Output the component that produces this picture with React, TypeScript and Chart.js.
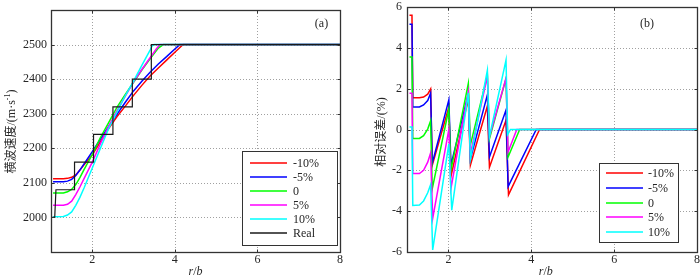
import React, { useEffect, useRef } from "react";
import { Chart, registerables } from "chart.js";
Chart.register(...registerables);

// ---------- data ----------
const seriesLabels = ["-10%", "-5%", "0", "5%", "10%", "Real"];
const seriesColors = ["#ff0000", "#0000ff", "#00ff00", "#ff00ff", "#00ffff", "#1a1a1a"];

const xTicks = [2, 4, 6, 8];
const velTicks = [2000, 2100, 2200, 2300, 2400, 2500];
const errTicks = [-6, -4, -2, 0, 2, 4, 6];

const velTitleMain = "横波速度/(m·s";
const velTitleSup = "-1";
const velTitleEnd = ")";
const errTitle = "相对误差/(%)";
const xTitleA = "r";
const xTitleSlash = "/";
const xTitleB = "b";
const panelA = "(a)";
const panelB = "(b)";

// left panel: shear wave velocity (x = r/b, y = m/s)
const velRed = [[1.05,2112],[1.3,2112],[1.4,2113],[1.5,2116],[1.6,2123],[1.7,2137],[1.8,2152],[2.0,2181],[2.2,2219],[2.4,2258],[2.6,2292],[2.8,2322],[3.0,2353],[3.2,2382],[3.4,2409],[3.6,2432],[3.8,2455],[4.0,2478],[4.2,2500],[8,2500]];
const velBlue = [[1.05,2103],[1.3,2103],[1.4,2105],[1.5,2110],[1.6,2121],[1.7,2137],[1.8,2155],[2.0,2190],[2.2,2227],[2.4,2264],[2.6,2299],[2.8,2333],[3.0,2366],[3.2,2394],[3.4,2420],[3.6,2444],[3.8,2465],[4.0,2487],[4.12,2500],[8,2500]];
const velGreen = [[1.05,2071],[1.3,2071],[1.4,2074],[1.5,2081],[1.6,2095],[1.7,2115],[1.8,2138],[2.0,2182],[2.2,2232],[2.4,2275],[2.6,2319],[2.8,2356],[3.0,2391],[3.2,2426],[3.4,2459],[3.6,2490],[3.72,2500],[8,2500]];
const velMagenta = [[1.05,2035],[1.3,2035],[1.4,2038],[1.5,2047],[1.6,2066],[1.7,2088],[1.8,2112],[2.0,2160],[2.2,2214],[2.4,2264],[2.6,2309],[2.8,2351],[3.0,2392],[3.2,2428],[3.4,2462],[3.55,2487],[3.64,2500],[8,2500]];
const velCyan = [[1.05,2002],[1.3,2003],[1.4,2007],[1.5,2016],[1.6,2035],[1.7,2058],[1.8,2085],[2.0,2143],[2.2,2201],[2.4,2258],[2.6,2305],[2.8,2352],[3.0,2394],[3.2,2440],[3.4,2484],[3.45,2496],[3.5,2500],[8,2500]];
const velReal = [[1.02,2000],[1.09,2000],[1.12,2080],[1.57,2080],[1.57,2160],[2.03,2160],[2.03,2240],[2.5,2240],[2.5,2320],[2.97,2320],[2.97,2400],[3.43,2400],[3.43,2500],[8,2500]];

// right panel: relative error (%)
const errRed = [[1.06,5.6],[1.12,5.6],[1.14,1.55],[1.3,1.55],[1.4,1.59],[1.5,1.73],[1.57,1.98],[1.61,-1.75],[2.01,1.1],[2.06,-2.3],[2.48,1.5],[2.53,-1.75],[2.94,1.15],[2.99,-1.85],[3.39,0.45],[3.45,-3.2],[4.2,0],[8,0]];
const errBlue = [[1.06,5.15],[1.12,5.15],[1.14,1.1],[1.3,1.1],[1.4,1.2],[1.5,1.42],[1.57,1.78],[1.61,-1.65],[2.01,1.45],[2.06,-1.75],[2.48,1.75],[2.53,-1.45],[2.94,1.7],[2.99,-1.35],[3.39,0.95],[3.44,-2.8],[4.12,0],[8,0]];
const errGreen = [[1.06,3.55],[1.12,3.55],[1.14,-0.44],[1.3,-0.44],[1.4,-0.3],[1.5,0.02],[1.57,0.42],[1.61,-2.9],[2.01,1.0],[2.06,-2.0],[2.48,2.25],[2.53,-0.75],[2.94,2.65],[2.99,-0.45],[3.39,2.5],[3.44,-1.35],[3.72,0],[8,0]];
const errMagenta = [[1.06,1.77],[1.12,1.77],[1.14,-2.16],[1.3,-2.16],[1.4,-2.0],[1.5,-1.6],[1.57,-1.15],[1.62,-4.35],[2.01,0],[2.06,-2.9],[2.48,1.85],[2.53,-1.2],[2.94,2.6],[2.99,-0.35],[3.39,2.52],[3.44,-1.1],[3.65,0],[8,0]];
const errCyan = [[1.06,0.12],[1.12,0.12],[1.14,-3.72],[1.3,-3.7],[1.4,-3.5],[1.5,-3.1],[1.57,-2.7],[1.62,-5.9],[2.01,-0.7],[2.08,-3.95],[2.48,1.8],[2.53,-1.45],[2.94,2.9],[2.99,-0.35],[3.39,3.4],[3.43,-0.25],[3.5,0],[8,0]];

const velSeries = [velRed, velBlue, velGreen, velMagenta, velCyan, velReal];
const errSeries = [errRed, errBlue, errGreen, errMagenta, errCyan];

// ---------- drawing helpers ----------
const SERIF = "'Liberation Serif', 'Times New Roman', serif";
const CJK = "'Liberation Serif', 'Noto Sans CJK SC', sans-serif";
const FRAME = "#333333";
const TEXT = "#262626";

type Part = { text: string; font: string; dy: number };

function drawRotated(ctx: CanvasRenderingContext2D, parts: Part[], cx: number, cy: number) {
  ctx.save();
  ctx.translate(cx, cy);
  ctx.rotate(-Math.PI / 2);
  let total = 0;
  for (const p of parts) {
    ctx.font = p.font;
    total += ctx.measureText(p.text).width;
  }
  let x = -total / 2;
  ctx.textAlign = "left";
  ctx.textBaseline = "middle";
  ctx.fillStyle = TEXT;
  for (const p of parts) {
    ctx.font = p.font;
    ctx.fillText(p.text, x, p.dy);
    x += ctx.measureText(p.text).width;
  }
  ctx.restore();
}

type DecorCfg = {
  legend: { x: number; y: number; w: number; h: number; rowY: number; rowStep: number; lineX: number; lineW: number; textX: number };
  panel: { text: string; x: number; y: number };
  yTitle: { parts: Part[]; x: number; y: number };
  xTitle: { x: number; y: number };
};

function makeDecor(cfg: DecorCfg) {
  return {
    id: "decor",
    beforeDatasetsDraw(chart: any) {
      const { ctx, chartArea: a, scales } = chart;
      ctx.save();
      ctx.strokeStyle = "#a0a0a0";
      ctx.lineWidth = 1;
      ctx.setLineDash([1, 2]);
      for (const t of scales.x.ticks) {
        const px = Math.round(scales.x.getPixelForValue(t.value)) + 0.5;
        if (px <= a.left + 2 || px >= a.right - 2) continue;
        ctx.beginPath();
        ctx.moveTo(px, a.top);
        ctx.lineTo(px, a.bottom);
        ctx.stroke();
      }
      for (const t of scales.y.ticks) {
        const py = Math.round(scales.y.getPixelForValue(t.value)) + 0.5;
        if (py <= a.top + 2 || py >= a.bottom - 2) continue;
        ctx.beginPath();
        ctx.moveTo(a.left, py);
        ctx.lineTo(a.right, py);
        ctx.stroke();
      }
      ctx.restore();
    },
    afterDraw(chart: any) {
      const { ctx, chartArea: a, scales } = chart;
      ctx.save();
      // frame
      ctx.strokeStyle = FRAME;
      ctx.lineWidth = 1.3;
      const L = Math.round(a.left) + 0.5, R = Math.round(a.right) + 0.5;
      const T = Math.round(a.top) + 0.5, B = Math.round(a.bottom) + 0.5;
      ctx.strokeRect(L, T, R - L, B - T);
      // inward ticks
      ctx.lineWidth = 1;
      const tl = 3;
      for (const t of scales.x.ticks) {
        const px = Math.round(scales.x.getPixelForValue(t.value)) + 0.5;
        ctx.beginPath();
        ctx.moveTo(px, B); ctx.lineTo(px, B - tl);
        ctx.moveTo(px, T); ctx.lineTo(px, T + tl);
        ctx.stroke();
      }
      for (const t of scales.y.ticks) {
        const py = Math.round(scales.y.getPixelForValue(t.value)) + 0.5;
        ctx.beginPath();
        ctx.moveTo(L, py); ctx.lineTo(L + tl, py);
        ctx.moveTo(R, py); ctx.lineTo(R - tl, py);
        ctx.stroke();
      }
      // legend
      const lg = cfg.legend;
      ctx.fillStyle = "#ffffff";
      ctx.fillRect(lg.x, lg.y, lg.w, lg.h);
      ctx.strokeStyle = FRAME;
      ctx.lineWidth = 1;
      ctx.strokeRect(lg.x + 0.5, lg.y + 0.5, lg.w, lg.h);
      ctx.font = "12px " + SERIF;
      ctx.textAlign = "left";
      ctx.textBaseline = "middle";
      chart.data.datasets.forEach((ds: any, i: number) => {
        const y = Math.round(lg.rowY + i * lg.rowStep);
        ctx.strokeStyle = seriesColors[i];
        ctx.lineWidth = 1.5;
        ctx.beginPath();
        ctx.moveTo(lg.lineX, y);
        ctx.lineTo(lg.lineX + lg.lineW, y);
        ctx.stroke();
        ctx.fillStyle = TEXT;
        ctx.fillText(ds.label, lg.textX, y + 0.5);
      });
      // panel label
      ctx.font = "12px " + SERIF;
      ctx.textAlign = "center";
      ctx.fillStyle = TEXT;
      ctx.fillText(cfg.panel.text, cfg.panel.x, cfg.panel.y);
      // x title r/b
      const italic = "italic 12px " + SERIF;
      const normal = "12px " + SERIF;
      ctx.font = italic;
      const wa = ctx.measureText(xTitleA).width;
      const wb = ctx.measureText(xTitleB).width;
      ctx.font = normal;
      const ws = ctx.measureText(xTitleSlash).width;
      let x0 = cfg.xTitle.x - (wa + ws + wb) / 2;
      ctx.textAlign = "left";
      ctx.font = italic; ctx.fillText(xTitleA, x0, cfg.xTitle.y); x0 += wa;
      ctx.font = normal; ctx.fillText(xTitleSlash, x0, cfg.xTitle.y); x0 += ws;
      ctx.font = italic; ctx.fillText(xTitleB, x0, cfg.xTitle.y);
      ctx.restore();
      // y title
      drawRotated(ctx, cfg.yTitle.parts, cfg.yTitle.x, cfg.yTitle.y);
    },
  };
}

function buildOptions(yMin: number, yMax: number, yTicks: number[], yWidth: number, yPad: number, padRight: number, padTop: number) {
  return {
    responsive: false,
    animation: false as const,
    devicePixelRatio: 1,
    layout: { padding: { left: 0, right: padRight, top: padTop, bottom: 0 } },
    plugins: { legend: { display: false }, tooltip: { enabled: false }, title: { display: false } },
    elements: { point: { radius: 0 }, line: { tension: 0, borderWidth: 1.5 } },
    scales: {
      x: {
        type: "linear" as const,
        min: 1,
        max: 8,
        grid: { display: false, drawTicks: false },
        border: { display: false },
        afterBuildTicks: (s: any) => { s.ticks = xTicks.map((v) => ({ value: v })); },
        afterFit: (s: any) => { s.height = 27; s.paddingLeft = 0; s.paddingRight = 0; },
        ticks: { padding: 1, color: TEXT, font: { family: SERIF, size: 12 }, maxRotation: 0, autoSkip: false, callback: (v: any) => String(v) },
      },
      y: {
        type: "linear" as const,
        min: yMin,
        max: yMax,
        grid: { display: false, drawTicks: false },
        border: { display: false },
        afterBuildTicks: (s: any) => { s.ticks = yTicks.map((v) => ({ value: v })); },
        afterFit: (s: any) => { s.width = yWidth; s.paddingTop = 0; s.paddingBottom = 0; },
        ticks: { padding: yPad, color: TEXT, font: { family: SERIF, size: 12 }, autoSkip: false, callback: (v: any) => String(v) },
      },
    },
  };
}

function makeDatasets(series: number[][][]) {
  return series.map((arr, i) => ({
    label: seriesLabels[i],
    data: arr.map(([x, y]) => ({ x, y })),
    borderColor: seriesColors[i],
    backgroundColor: seriesColors[i],
    borderWidth: i === 5 ? 1.2 : 1.5,
    pointRadius: 0,
    fill: false,
    order: 10 - i,
  }));
}

export default function App() {
  const leftRef = useRef<HTMLCanvasElement>(null);
  const rightRef = useRef<HTMLCanvasElement>(null);

  useEffect(() => {
    const left = new Chart(leftRef.current!, {
      type: "line",
      data: { datasets: makeDatasets(velSeries) as any },
      options: buildOptions(1900, 2600, velTicks, 51, 4, 10, 10) as any,
      plugins: [
        makeDecor({
          legend: { x: 242, y: 151, w: 95, h: 94, rowY: 162.7, rowStep: 14.1, lineX: 250, lineW: 37, textX: 293 },
          panel: { text: panelA, x: 321.5, y: 24 },
          yTitle: {
            parts: [
              { text: velTitleMain, font: "12px " + CJK, dy: 0 },
              { text: velTitleSup, font: "8px " + SERIF, dy: -4 },
              { text: velTitleEnd, font: "12px " + SERIF, dy: 0 },
            ],
            x: 12,
            y: 131.5,
          },
          xTitle: { x: 195.5, y: 272 },
        }) as any,
      ],
    });
    const right = new Chart(rightRef.current!, {
      type: "line",
      data: { datasets: makeDatasets(errSeries) as any },
      options: buildOptions(-6, 6, errTicks, 57, 5, 3, 7) as any,
      plugins: [
        makeDecor({
          legend: { x: 249, y: 163, w: 79, h: 79, rowY: 173.3, rowStep: 14.6, lineX: 256, lineW: 37, textX: 298 },
          panel: { text: panelB, x: 297, y: 24 },
          yTitle: {
            parts: [{ text: errTitle, font: "12px " + CJK, dy: 0 }],
            x: 31.7,
            y: 132,
          },
          xTitle: { x: 195.8, y: 272 },
        }) as any,
      ],
    });
    return () => {
      left.destroy();
      right.destroy();
    };
  }, []);

  return (
    <div style={{ position: "absolute", left: 0, top: 0, width: 700, height: 279, background: "#fff", display: "flex" }}>
      <canvas ref={leftRef} width={350} height={279} style={{ width: 350, height: 279, display: "block" }} />
      <canvas ref={rightRef} width={350} height={279} style={{ width: 350, height: 279, display: "block" }} />
    </div>
  );
}
